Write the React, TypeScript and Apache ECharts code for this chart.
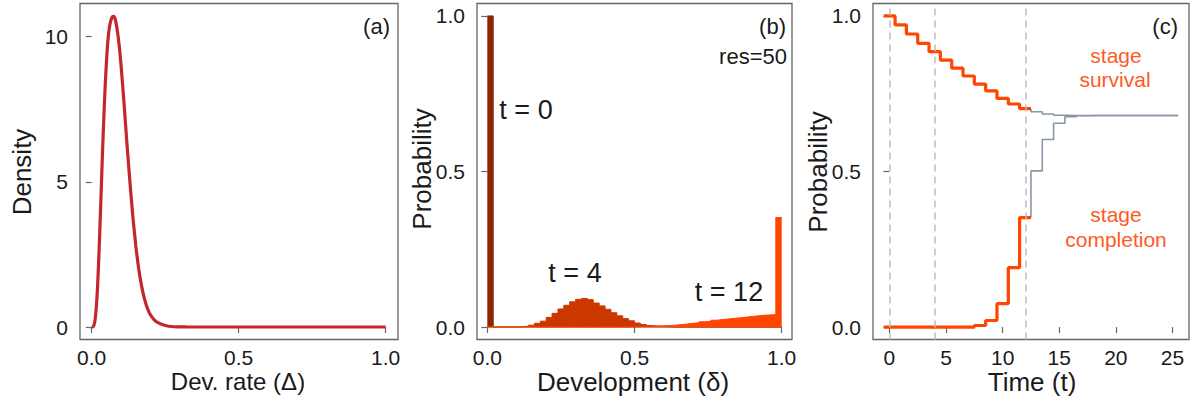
import React, { useEffect, useRef } from "react";
import * as echarts from "echarts";

// ---------- Panel (a): development-rate density ----------
const rateX = [0, 0.005, 0.01, 0.015, 0.02, 0.025, 0.03, 0.035, 0.04, 0.045, 0.05, 0.055, 0.06, 0.065, 0.07, 0.075, 0.08, 0.085, 0.09, 0.095, 0.1, 0.11, 0.12, 0.13, 0.14, 0.15, 0.16, 0.17, 0.18, 0.19, 0.2, 0.22, 0.25, 0.28, 0.32, 0.4, 0.6, 0.8, 1.0];
const rateDensity = [0, 0.01, 0.15, 0.6, 1.4, 2.6, 4.0, 5.5, 6.9, 8.1, 9.1, 9.85, 10.3, 10.55, 10.68, 10.7, 10.6, 10.35, 10.0, 9.55, 9.0, 7.7, 6.3, 5.0, 3.8, 2.8, 2.0, 1.4, 0.95, 0.63, 0.42, 0.18, 0.05, 0.01, 0.002, 0, 0, 0, 0];

// ---------- Panel (b): development distribution, res = 50 bins ----------
const binWidth = 0.02;
const distT0 = [1.0, 0, 0, 0, 0, 0, 0, 0, 0, 0, 0, 0, 0, 0, 0, 0, 0, 0, 0, 0, 0, 0, 0, 0, 0, 0, 0, 0, 0, 0, 0, 0, 0, 0, 0, 0, 0, 0, 0, 0, 0, 0, 0, 0, 0, 0, 0, 0, 0, 0];
const distT4 = [0, 0, 0, 0, 0, 0.001, 0.003, 0.006, 0.012, 0.019, 0.031, 0.044, 0.058, 0.07, 0.081, 0.089, 0.092, 0.088, 0.077, 0.068, 0.057, 0.046, 0.036, 0.027, 0.02, 0.013, 0.008, 0.005, 0.003, 0.002, 0.001, 0, 0, 0, 0, 0, 0, 0, 0, 0, 0, 0, 0, 0, 0, 0, 0, 0, 0, 0];
const distT12 = [0, 0, 0, 0, 0, 0, 0, 0, 0, 0, 0, 0, 0, 0, 0, 0, 0, 0, 0, 0, 0, 0, 0, 0, 0.001, 0.001, 0.002, 0.002, 0.003, 0.004, 0.005, 0.006, 0.008, 0.01, 0.012, 0.014, 0.017, 0.019, 0.022, 0.024, 0.026, 0.028, 0.03, 0.032, 0.034, 0.036, 0.038, 0.039, 0.04, 0.352];

// ---------- Panel (c): stage survival and completion ----------
const times = [0, 1, 2, 3, 4, 5, 6, 7, 8, 9, 10, 11, 12, 13, 14, 15, 16, 17, 18, 19, 20, 21, 22, 23, 24, 25];
const survival = [1.0, 0.971, 0.942, 0.912, 0.885, 0.858, 0.832, 0.807, 0.781, 0.759, 0.735, 0.717, 0.702, 0.692, 0.685, 0.681, 0.68, 0.68, 0.68, 0.68, 0.68, 0.68, 0.68, 0.68, 0.68, 0.68];
const completion = [0, 0, 0, 0, 0, 0, 0, 0, 0.005, 0.021, 0.075, 0.191, 0.352, 0.502, 0.603, 0.655, 0.676, 0.679, 0.68, 0.68, 0.68, 0.68, 0.68, 0.68, 0.68, 0.68];
const highlightEnd = 12;
const markTimes = [0, 4, 12];

const xTicksUnit = [0, 0.5, 1];
const yTicksDensity = [0, 5, 10];
const yTicksProb = [0, 0.5, 1];
const xTicksTime = [0, 5, 10, 15, 20, 25];

const FONT = "'Liberation Sans', Arial, Helvetica, sans-serif";
const TXT = "#1a1a1a";
const BOX = "#666666";
const ORANGE = "#FF4500";
const GREY_LINE = "#8896A8";
const NOTE = "#FF5A1F";

function histPoints(vals: number[]) {
  const pts: number[][] = [[0, vals[0]]];
  vals.forEach((v, k) => pts.push([(k + 1) * binWidth, v]));
  return pts;
}

function stepPoints(ts: number[], vs: number[], startPt?: number[]) {
  const pts: number[][] = startPt ? [startPt] : [[ts[0] - 0.5, vs[0]]];
  ts.forEach((t, i) => pts.push([t + 0.5, vs[i]]));
  return pts;
}

function mkX(idx: number, min: number, max: number, ticks: number[], fmt: (v: number) => string) {
  return {
    type: "value",
    gridIndex: idx,
    min,
    max,
    axisLine: { show: false },
    splitLine: { show: false },
    axisTick: { show: true, length: 6, lineStyle: { color: BOX, width: 1.2 }, customValues: ticks },
    axisLabel: { show: true, customValues: ticks, formatter: fmt, fontSize: 21, lineHeight: 18, fontFamily: FONT, color: TXT, margin: 9 },
  };
}
function mkY(idx: number, min: number, max: number, ticks: number[], fmt: (v: number) => string) {
  return {
    type: "value",
    gridIndex: idx,
    min,
    max,
    axisLine: { show: false },
    splitLine: { show: false },
    axisTick: { show: true, length: 6, lineStyle: { color: BOX, width: 1.2 }, customValues: ticks },
    axisLabel: { show: true, customValues: ticks, formatter: fmt, fontSize: 21, fontFamily: FONT, color: TXT, margin: 12 },
  };
}

function txt(text: string, x: number, y: number, size: number, opts: any = {}) {
  return {
    type: "text",
    x,
    y,
    rotation: opts.rotation || 0,
    style: {
      text,
      fill: opts.color || TXT,
      font: `${size}px ${FONT}`,
      textAlign: opts.align || "center",
      textVerticalAlign: "middle",
    },
  };
}

export default function App() {
  const ref = useRef<HTMLDivElement>(null);
  useEffect(() => {
    if (!ref.current) return;
    const chart = echarts.init(ref.current, undefined, { renderer: "svg" });
    const f1 = (v: number) => v.toFixed(1);
    const f0 = (v: number) => String(Math.round(v));

    const gridBase = { show: true, borderColor: BOX, borderWidth: 1.3, backgroundColor: "transparent", containLabel: false, outerBoundsMode: "none" };

    const survOrange = stepPoints(times.slice(0, highlightEnd + 1), survival.slice(0, highlightEnd + 1));
    const survGrey = stepPoints(times.slice(highlightEnd + 1), survival.slice(highlightEnd + 1), [highlightEnd + 0.5, survival[highlightEnd]]);
    const compOrange = stepPoints(times.slice(0, highlightEnd + 1), completion.slice(0, highlightEnd + 1));
    const compGrey = stepPoints(times.slice(highlightEnd + 1), completion.slice(highlightEnd + 1), [highlightEnd + 0.5, completion[highlightEnd]]);

    const histSeries = (vals: number[], color: string, z: number) => ({
      type: "line",
      xAxisIndex: 1,
      yAxisIndex: 1,
      data: histPoints(vals),
      step: "start",
      symbol: "none",
      lineStyle: { color, width: 1 },
      areaStyle: { color, opacity: 1 },
      z,
    });

    chart.setOption({
      animation: false,
      grid: [
        { ...gridBase, left: 80, top: 3.5, width: 318, height: 336 },
        { ...gridBase, left: 477, top: 3.5, width: 315, height: 336 },
        { ...gridBase, left: 873, top: 3.5, width: 316, height: 336 },
      ],
      xAxis: [
        mkX(0, -0.0398, 1.042, xTicksUnit, f1),
        mkX(1, -0.035, 1.035, xTicksUnit, f1),
        mkX(2, -1.45, 26.46, xTicksTime, f0),
      ],
      yAxis: [
        mkY(0, -0.43, 11.14, yTicksDensity, f0),
        mkY(1, -0.04, 1.04, yTicksProb, f1),
        mkY(2, -0.04, 1.04, yTicksProb, f1),
      ],
      series: [
        {
          type: "line",
          xAxisIndex: 0,
          yAxisIndex: 0,
          data: rateX.map((x, i) => [x, rateDensity[i]]),
          smooth: 0.2,
          symbol: "none",
          lineStyle: { color: "#C3272B", width: 3.2 },
        },
        histSeries(distT0, "#8B2400", 2),
        histSeries(distT4, "#CC3700", 3),
        histSeries(distT12, ORANGE, 4),
        {
          type: "line",
          xAxisIndex: 2,
          yAxisIndex: 2,
          data: survGrey,
          step: "start",
          symbol: "none",
          lineStyle: { color: GREY_LINE, width: 1.6 },
          z: 2,
          markLine: {
            silent: true,
            symbol: "none",
            label: { show: false },
            lineStyle: { color: "#BDBDBD", width: 1.5, type: [7, 5] },
            data: markTimes.map((t) => ({ xAxis: t })),
          },
        },
        {
          type: "line",
          xAxisIndex: 2,
          yAxisIndex: 2,
          data: compGrey,
          step: "start",
          symbol: "none",
          lineStyle: { color: GREY_LINE, width: 1.6 },
          z: 2,
        },
        {
          type: "line",
          xAxisIndex: 2,
          yAxisIndex: 2,
          data: survOrange,
          step: "start",
          symbol: "none",
          lineStyle: { color: ORANGE, width: 3.2 },
          z: 3,
        },
        {
          type: "line",
          xAxisIndex: 2,
          yAxisIndex: 2,
          data: compOrange,
          step: "start",
          symbol: "none",
          lineStyle: { color: ORANGE, width: 3.2 },
          z: 3,
        },
      ],
      graphic: [
        txt("Density", 22, 172, 26, { rotation: Math.PI / 2 }),
        txt("Dev. rate (\u0394)", 238, 381, 24),
        txt("(a)", 390, 26, 22, { align: "right" }),
        txt("Probability", 422, 169, 26, { rotation: Math.PI / 2 }),
        txt("Development (\u03b4)", 633, 382, 26),
        txt("(b)", 786, 26, 22, { align: "right" }),
        txt("res=50", 787, 56, 22, { align: "right" }),
        txt("t = 0", 526, 110, 27),
        txt("t = 4", 575, 273, 27),
        txt("t = 12", 729, 292, 27),
        txt("Probability", 818, 172, 26, { rotation: Math.PI / 2 }),
        txt("Time (t)", 1032, 382, 26),
        txt("(c)", 1178, 26, 22, { align: "right" }),
        txt("stage", 1116, 55, 21, { color: NOTE }),
        txt("survival", 1115, 79.5, 21, { color: NOTE }),
        txt("stage", 1116, 214.5, 21, { color: NOTE }),
        txt("completion", 1116, 239, 21, { color: NOTE }),
      ],
    });
    return () => chart.dispose();
  }, []);
  return <div ref={ref} style={{ position: "absolute", left: 0, top: 0, width: 1190, height: 402 }} />;
}
